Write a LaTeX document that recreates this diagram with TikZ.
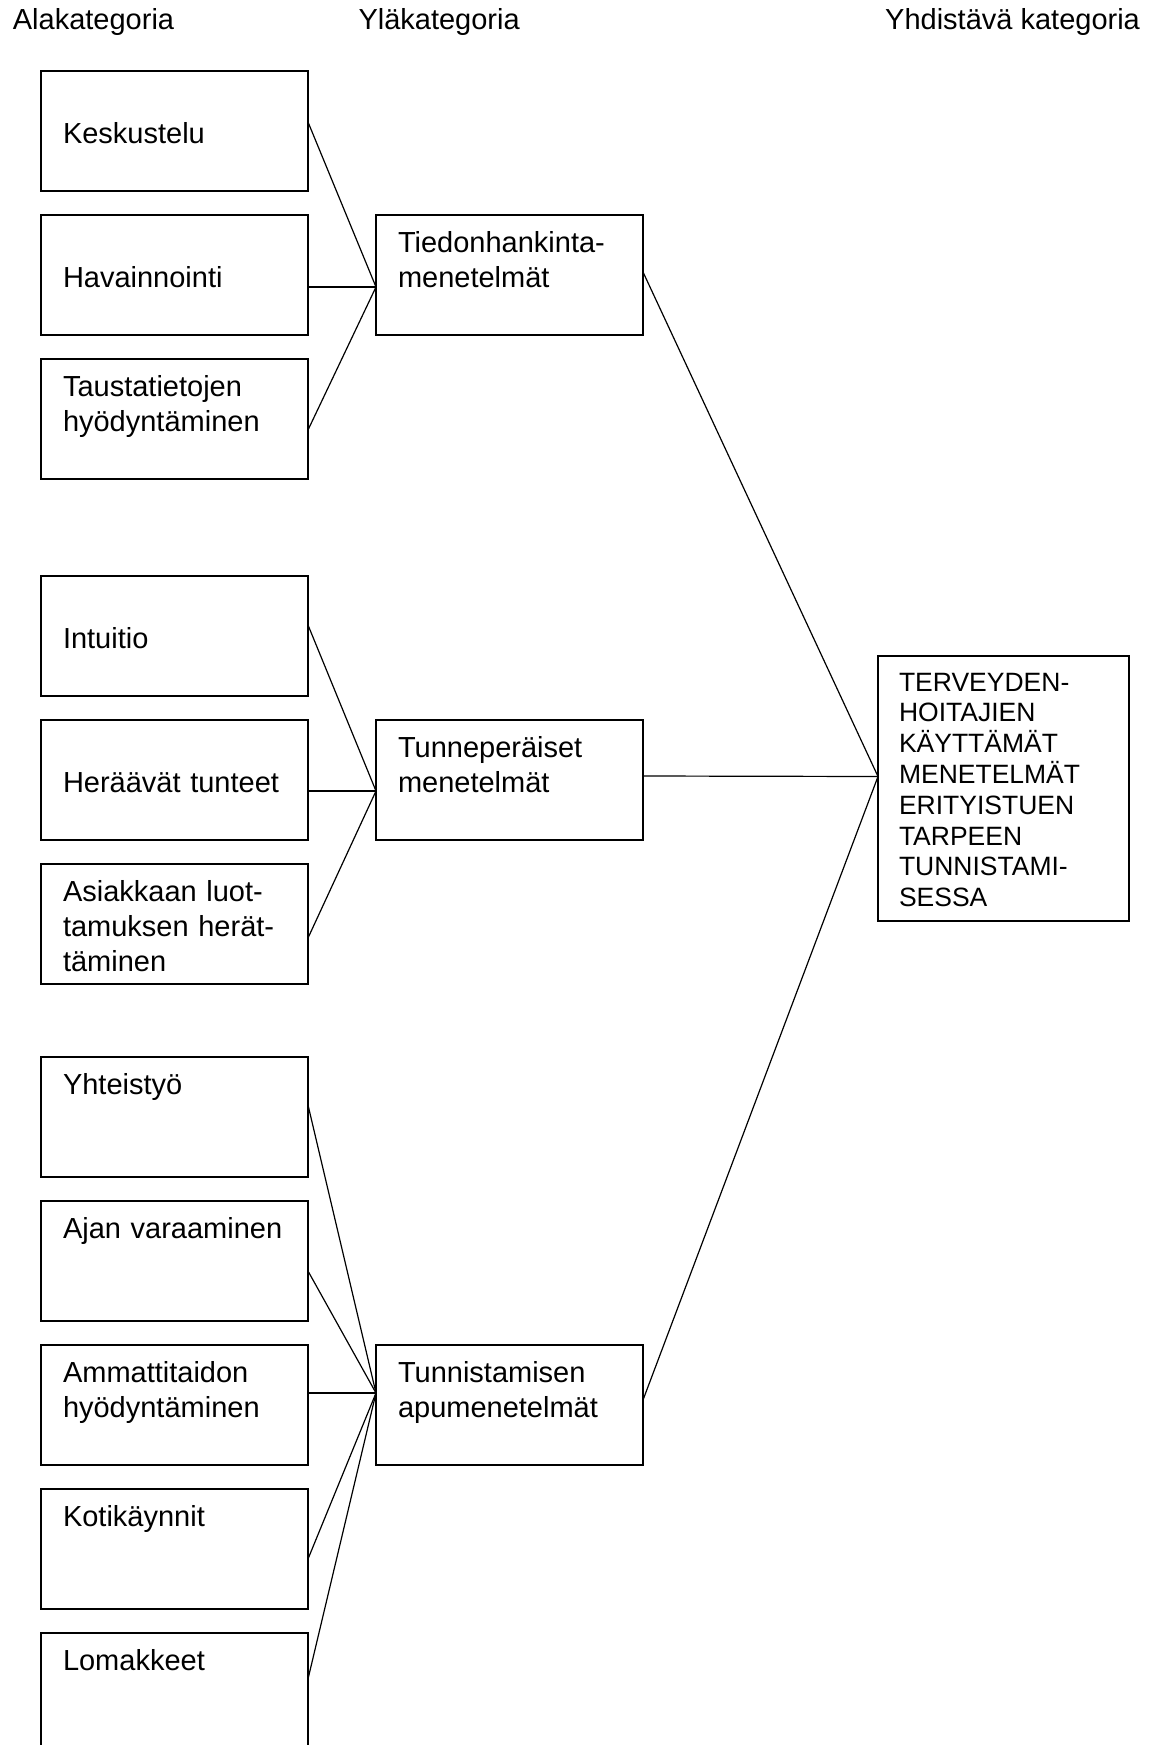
\documentclass[tikz,border=0pt]{standalone}
\usepackage{fontspec}
\setmainfont{Liberation Sans}

\begin{document}
\begin{tikzpicture}[x=1pt, y=-1pt,
  luokka/.style={draw, line width=1.6pt, anchor=north west, outer sep=0pt,
    minimum width=267pt, minimum height=120pt, inner xsep=22pt, inner ysep=0pt,
    text width=223pt, align=left, text height=37pt, text depth=83pt,
    font=\fontsize{29}{35}\selectfont},
  alas/.style={text height=72pt, text depth=48pt},
  yhdistava/.style={luokka, minimum width=251pt, minimum height=265pt,
    inner xsep=21pt, text width=209pt, text height=35pt, text depth=230pt,
    font=\fontsize{26.5}{30.8}\selectfont},
  otsikko/.style={anchor=base west, inner sep=0pt, font=\fontsize{29}{35}\selectfont},
  yhteys/.style={line width=1.2pt}]
\useasboundingbox (0,0) rectangle (1154,1745);
\clip (0,0) rectangle (1154,1745);
% Otsikot
\node[otsikko] (hala) at (12.7,30) {Alakategoria};
\node[otsikko] (hyla) at (358.3,30) {Yläkategoria};
\node[otsikko] (hyhd) at (885,30) {Yhdistävä kategoria};
% Alakategoriat
\node[luokka, alas] (kesk) at (41,71) {Keskustelu};
\node[luokka, alas] (hav) at (41,215) {Havainnointi};
\node[luokka] (taus) at (41,359) {Taustatietojen\\hyödyntäminen};
\node[luokka, alas] (int) at (41,576) {Intuitio};
\node[luokka, alas] (her) at (41,720) {Heräävät tunteet};
\node[luokka] (asi) at (41,864) {Asiakkaan luot-\\tamuksen herät-\\täminen};
\node[luokka] (yht) at (41,1057) {Yhteistyö};
\node[luokka] (ajan) at (41,1201) {Ajan varaaminen};
\node[luokka] (amm) at (41,1345) {Ammattitaidon\\hyödyntäminen};
\node[luokka] (koti) at (41,1489) {Kotikäynnit};
\node[luokka] (loma) at (41,1633) {Lomakkeet};
% Yläkategoriat
\node[luokka, minimum width=266pt] (tied) at (376,215) {Tiedonhankinta-\\menetelmät};
\node[luokka, minimum width=266pt] (tunne) at (376,720) {Tunneperäiset\\menetelmät};
\node[luokka, minimum width=266pt] (apu) at (376,1345) {Tunnistamisen\\apumenetelmät};
% Yhdistävä kategoria
\node[yhdistava] (yhd) at (878,656) {TERVEYDEN-\\HOITAJIEN\\KÄYTTÄMÄT\\MENETELMÄT\\ERITYISTUEN\\TARPEEN\\TUNNISTAMI-\\SESSA};
% Liitoskohdat
\coordinate (l1) at ([yshift=-12pt]tied.west);
\coordinate (l2) at ([yshift=-11pt]tunne.west);
\coordinate (l3) at ([yshift=12pt]apu.west);
\coordinate (l4) at ([yshift=12pt]yhd.west);
% Alakategoriat -> yläkategoriat
\draw[yhteys] ([yshift=9pt]kesk.east) -- (l1);
\draw[yhteys] ([yshift=-12pt]hav.east) -- (l1);
\draw[yhteys] ([yshift=-11pt]taus.east) -- (l1);
\draw[yhteys] ([yshift=11pt]int.east) -- (l2);
\draw[yhteys] ([yshift=-11pt]her.east) -- (l2);
\draw[yhteys] ([yshift=-14pt]asi.east) -- (l2);
\draw[yhteys] ([yshift=12pt]yht.east) -- (l3);
\draw[yhteys] ([yshift=-10pt]ajan.east) -- (l3);
\draw[yhteys] ([yshift=12pt]amm.east) -- (l3);
\draw[yhteys] ([yshift=-10pt]koti.east) -- (l3);
\draw[yhteys] ([yshift=14pt]loma.east) -- (l3);
% Yläkategoriat -> yhdistävä kategoria
\draw[yhteys] ([yshift=3pt]tied.east) -- (l4);
\draw[yhteys] ([yshift=4pt]tunne.east) -- (l4);
\draw[yhteys] ([yshift=5pt]apu.east) -- (l4);
\end{tikzpicture}
\end{document}
